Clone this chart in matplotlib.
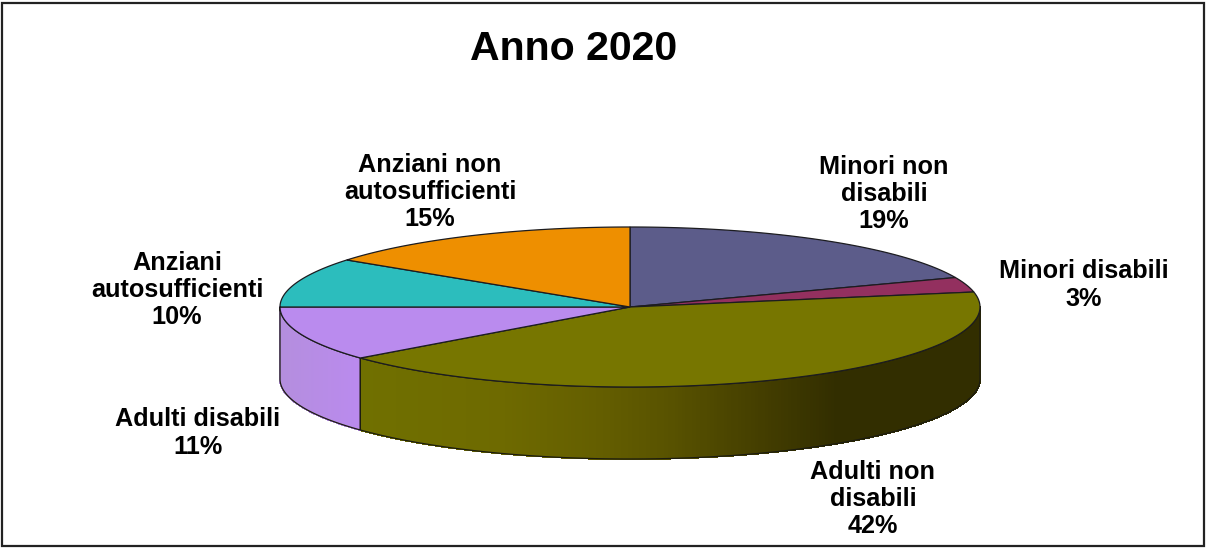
import numpy as np
import matplotlib
matplotlib.use("Agg")
import matplotlib.pyplot as plt
from matplotlib.patches import Polygon, Rectangle
from matplotlib.collections import PolyCollection

categories = ["Minori non\ndisabili", "Minori disabili", "Adulti non\ndisabili",
              "Adulti disabili", "Anziani\nautosufficienti", "Anziani non\nautosufficienti"]
values = [19, 3, 42, 11, 10, 15]
colors = ["#5C5C8A", "#93305F", "#777600", "#BA8BEE", "#2CBDBD", "#EE8F00"]
title = "Anno 2020"
label_xy = [(884, 194), (1084, 285), (873, 499), (198, 433), (177, 290), (430, 192)]

W, H = 1206, 548
CX, CY, RX, RY, DEPTH = 630.0, 307.0, 350.0, 80.0, 72.0
plt.rcParams["font.family"] = ["Liberation Sans", "DejaVu Sans"]

fig = plt.figure(figsize=(W / 100, H / 100), dpi=100)
ax = fig.add_axes([0, 0, 1, 1])
ax.set_xlim(0, W)
ax.set_ylim(H, 0)
ax.axis("off")
ax.add_patch(Rectangle((1.5, 3), W - 3.5, H - 5.5, fc="white", ec="#222222", lw=1.6))


def rim(theta_deg, dz=0.0):
    t = np.radians(theta_deg)
    return np.column_stack([CX + RX * np.sin(t), CY - RY * np.cos(t) + dz])


def olive_side(x):
    xs = [360, 500, 600, 670, 760, 835, 985]
    rs = [112, 110, 100, 88, 68, 50, 50]
    gs = [112, 106, 94, 82, 62, 46, 46]
    return (np.interp(x, xs, rs) / 255, np.interp(x, xs, gs) / 255, 0)


def lilac_side(x):
    r = np.interp(x, [280, 360], [180, 186]) / 255
    g = np.interp(x, [280, 360], [142, 138]) / 255
    b = np.interp(x, [280, 360], [222, 238]) / 255
    return (r, g, b)


edges = np.cumsum([0] + values) / sum(values) * 360.0
shade = {2: olive_side, 3: lilac_side}

# front wall
for i, fn in shade.items():
    a0, a1 = max(edges[i], 90.0), min(edges[i + 1], 270.0)
    th = np.linspace(a0, a1, 240)
    top, bot = rim(th), rim(th, DEPTH)
    quads = [np.vstack([top[k], top[k + 1], bot[k + 1], bot[k]]) for k in range(len(th) - 1)]
    cols = [fn(0.5 * (top[k, 0] + top[k + 1, 0])) for k in range(len(th) - 1)]
    ax.add_collection(PolyCollection(quads, facecolors=cols, edgecolors=cols, linewidths=0.8,
                                     antialiaseds=False, zorder=2))
    ax.add_patch(Polygon(np.vstack([top, bot[::-1]]), closed=True, fc="none", ec="#1c1c10", lw=0.9, zorder=3))

# top face
for i, c in enumerate(colors):
    th = np.linspace(edges[i], edges[i + 1], 200)
    ax.add_patch(Polygon(np.vstack([[CX, CY], rim(th)]), closed=True, fc=c, ec="#1c1c20", lw=0.9, zorder=4))

for lab, v, (x, y) in zip(categories, values, label_xy):
    ax.text(x, y, f"{lab}\n{v}%", ha="center", va="center", fontsize=18.2, fontweight="bold",
            color="black", linespacing=1.18, zorder=5)
ax.text(574, 49, title, ha="center", va="center", fontsize=29.5, fontweight="bold", color="black", zorder=5)

fig.savefig("out.png", dpi=100)
